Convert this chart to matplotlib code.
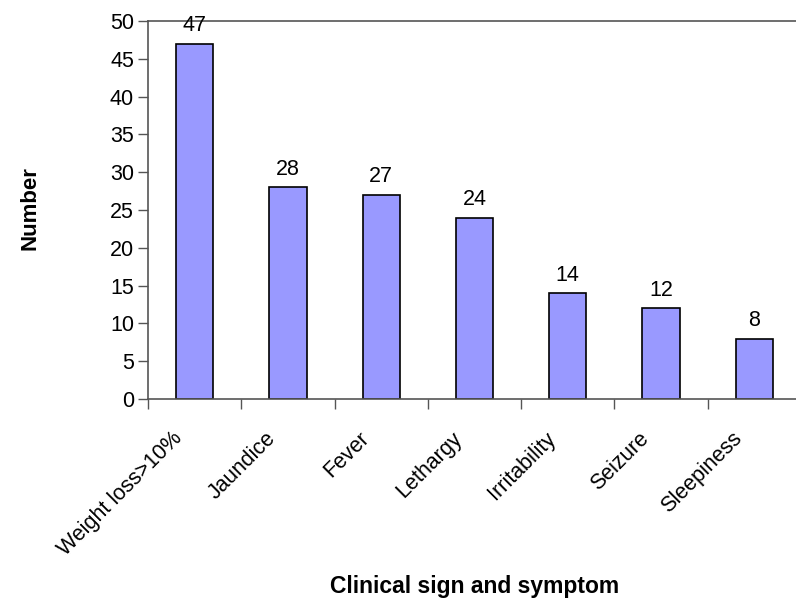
import matplotlib.pyplot as plt
import matplotlib.transforms as mtransforms
import numpy as np

plt.rcParams['font.family'] = ['Liberation Sans', 'DejaVu Sans']

categories = ["Weight loss>10%", "Jaundice", "Fever", "Lethargy",
              "Irritability", "Seizure", "Sleepiness"]
counts = [47, 28, 27, 24, 14, 12, 8]

fig = plt.figure(figsize=(7.96, 6.03), dpi=100)
# plot area runs past the right edge, like the original
ax = fig.add_axes([148 / 796, 204 / 603, 653 / 796, 378 / 603])

x = np.arange(len(categories))
ax.bar(x, counts, width=0.4, color="#9999FF", edgecolor="black", linewidth=1.2)

for xi, v in zip(x, counts):
    ax.text(xi, v + 1.0, str(v), ha="center", va="bottom", fontsize=15.5)

ax.set_xlim(-0.5, len(categories) - 0.5)
ax.set_ylim(0, 50)
ax.set_yticks(range(0, 51, 5))
ax.tick_params(axis="y", labelsize=15.5, length=7, width=1, color="#555555", pad=3)

# ticks between categories, labels under the bars
ax.set_xticks(np.arange(-0.5, len(categories), 1.0))
ax.set_xticklabels([])
ax.set_xticks(x, minor=True)
ax.set_xticklabels(categories, minor=True, rotation=45, ha="right", va="top",
                   fontsize=15.5)
ax.tick_params(axis="x", which="major", length=7, width=1, color="#555555")
ax.tick_params(axis="x", which="minor", length=0, pad=21)
shift = mtransforms.ScaledTranslation(-8 / 100, 0, fig.dpi_scale_trans)
for lab in ax.get_xticklabels(minor=True):
    lab.set_transform(lab.get_transform() + shift)

for side in ["left", "bottom", "top"]:
    ax.spines[side].set_color("#555555")
    ax.spines[side].set_linewidth(1.2)
ax.spines["right"].set_visible(False)

fig.text(30 / 796, 1 - 208 / 603, "Number", rotation=90, ha="center", va="center",
         fontsize=16, fontweight="bold")
fig.text(475 / 796, 1 - 587 / 603, "Clinical sign and symptom", ha="center", va="center",
         fontsize=16.5, fontweight="bold")

fig.savefig("out.png", dpi=100)
